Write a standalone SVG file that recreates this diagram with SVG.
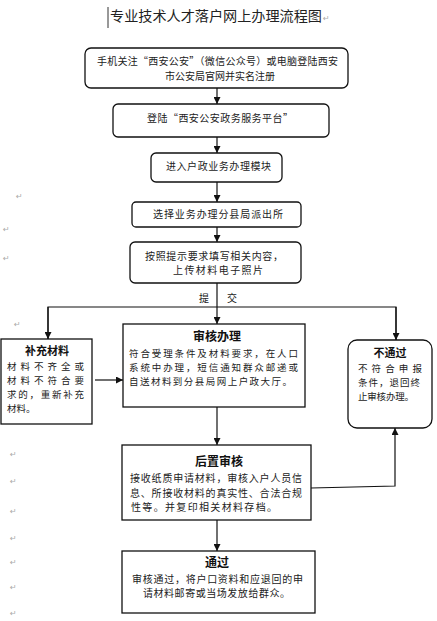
<svg xmlns="http://www.w3.org/2000/svg" width="437" height="621" viewBox="0 0 437 621">
<style>
.box{fill:#fff;stroke:#111;stroke-width:1.3}
.t{font-family:"Noto Sans CJK SC","Liberation Sans",sans-serif;font-size:10px;fill:#222}
.s{font-size:9.5px}
.b{font-family:"Noto Sans CJK SC","Liberation Serif",serif;font-weight:bold;fill:#111;text-anchor:middle}
.c{text-anchor:middle}
.ln{stroke:#111;stroke-width:1.2;fill:none}
.rm{font-family:"DejaVu Sans",sans-serif;font-size:8px;fill:#aaa}
</style>
<defs>
<marker id="ah" viewBox="0 0 10 10" refX="10" refY="5" markerWidth="7" markerHeight="7" markerUnits="userSpaceOnUse" orient="auto">
<path d="M0,0 L10,5 L0,10 z" fill="#111"/>
</marker>
</defs>
<rect width="437" height="621" fill="#fff"/>
<g id="title">
<line x1="108" y1="7" x2="108" y2="28" stroke="#333" stroke-width="1"/>
<text x="110" y="21" font-family="Noto Sans CJK SC,sans-serif" font-size="14" fill="#222" textLength="212" lengthAdjust="spacingAndGlyphs">专业技术人才落户网上办理流程图</text>
<text class="rm" x="323" y="21">↵</text>
</g>
<g id="margin-marks">
<text class="rm" x="16" y="199">↵</text>
<text class="rm" x="3" y="232">↵</text>
<text class="rm" x="3" y="261">↵</text>
<text class="rm" x="14" y="327">↵</text>
<text class="rm" x="10" y="457">↵</text>
<text class="rm" x="10" y="484">↵</text>
<text class="rm" x="10" y="514">↵</text>
<text class="rm" x="10" y="541">↵</text>
<text class="rm" x="10" y="565">↵</text>
<text class="rm" x="10" y="590">↵</text>
<text class="rm" x="10" y="616">↵</text>
</g>
<g id="connectors">
<line class="ln" x1="217" y1="88" x2="217" y2="104" marker-end="url(#ah)"/>
<line class="ln" x1="217" y1="137" x2="217" y2="153" marker-end="url(#ah)"/>
<line class="ln" x1="217" y1="182" x2="217" y2="202" marker-end="url(#ah)"/>
<line class="ln" x1="217" y1="227" x2="217" y2="242" marker-end="url(#ah)"/>
<line class="ln" x1="217" y1="283" x2="217" y2="324" marker-end="url(#ah)"/>
<polyline class="ln" points="48,339 48,307 396,307 396,340"/>
<line class="ln" x1="48" y1="307" x2="48" y2="339" marker-end="url(#ah)"/>
<line class="ln" x1="396" y1="307" x2="396" y2="340" marker-end="url(#ah)"/>
<line class="ln" x1="95" y1="380" x2="123" y2="380" marker-end="url(#ah)"/>
<line class="ln" x1="217" y1="407" x2="217" y2="445" marker-end="url(#ah)"/>
<polyline class="ln" points="311,488 395,486 395,428" marker-end="url(#ah)"/>
<line class="ln" x1="217" y1="520" x2="217" y2="551" marker-end="url(#ah)"/>
<text class="t" x="199" y="302" font-size="11">提</text>
<text class="t" x="227" y="302" font-size="11">交</text>
</g>
<g id="n1">
<rect class="box" x="85" y="48" width="263" height="40" rx="6"/>
<text class="t" x="97" y="65" textLength="241" lengthAdjust="spacing">手机关注“西安公安”（微信公众号）或电脑登陆西安</text>
<text class="t c" x="220" y="80">市公安局官网并实名注册</text>
</g>
<g id="n2">
<rect class="box" x="113" y="104" width="216" height="33" rx="5"/>
<text class="t" x="147" y="122" textLength="146" lengthAdjust="spacing">登陆“西安公安政务服务平台”</text>
</g>
<g id="n3">
<rect class="box" x="151" y="153" width="131" height="29" rx="5"/>
<text class="t" x="166" y="170" textLength="105" lengthAdjust="spacing">进入户政业务办理模块</text>
</g>
<g id="n4">
<rect class="box" x="132" y="202" width="169" height="25" rx="4"/>
<text class="t" x="153" y="218" textLength="130" lengthAdjust="spacing">选择业务办理分县局派出所</text>
</g>
<g id="n5">
<rect class="box" x="130" y="242" width="171" height="41" rx="5"/>
<text class="t" x="145" y="259.5" textLength="138" lengthAdjust="spacing">按照提示要求填写相关内容，</text>
<text class="t" x="173" y="274" textLength="90" lengthAdjust="spacing">上传材料电子照片</text>
</g>
<g id="n-bc">
<rect class="box" x="1" y="339" width="91" height="85"/>
<text class="b" x="47" y="355" font-size="11">补充材料</text>
<text class="t s" x="7" y="370" textLength="77" lengthAdjust="spacing">材料不齐全或</text>
<text class="t s" x="7" y="384" textLength="77" lengthAdjust="spacing">材料不符合要</text>
<text class="t s" x="7" y="398" textLength="77" lengthAdjust="spacing">求的，重新补充</text>
<text class="t s" x="7" y="412">材料。</text>
</g>
<g id="n-sh">
<rect class="box" x="123" y="324" width="182" height="83"/>
<text class="b" x="217" y="341" font-size="12">审核办理</text>
<text class="t s" x="129" y="357" textLength="169" lengthAdjust="spacing">符合受理条件及材料要求，在人口</text>
<text class="t s" x="129" y="371" textLength="169" lengthAdjust="spacing">系统中办理，短信通知群众邮递或</text>
<text class="t s" x="129" y="385" textLength="163" lengthAdjust="spacing">自送材料到分县局网上户政大厅。</text>
</g>
<g id="n-btg">
<rect class="box" x="348" y="340" width="84" height="88" rx="9"/>
<text class="b" x="390" y="357" font-size="11">不通过</text>
<text class="t s" x="358" y="372" textLength="64" lengthAdjust="spacing">不符合申报</text>
<text class="t s" x="358" y="386" textLength="62" lengthAdjust="spacing">条件，退回终</text>
<text class="t s" x="358" y="400" textLength="56" lengthAdjust="spacing">止审核办理。</text>
</g>
<g id="n-hz">
<rect class="box" x="122" y="445" width="189" height="75"/>
<text class="b" x="219" y="466" font-size="12">后置审核</text>
<text class="t" x="130" y="482" textLength="172" lengthAdjust="spacing">接收纸质申请材料，审核入户人员信</text>
<text class="t" x="130" y="496.5" textLength="172" lengthAdjust="spacing">息、所接收材料的真实性、合法合规</text>
<text class="t" x="131" y="511" textLength="146" lengthAdjust="spacing">性等。并复印相关材料存档。</text>
</g>
<g id="n-tg">
<rect class="box" x="122" y="551" width="193" height="62"/>
<text class="b" x="217" y="567" font-size="12">通过</text>
<text class="t" x="132" y="582.5" textLength="171" lengthAdjust="spacing">审核通过，将户口资料和应退回的申</text>
<text class="t" x="143" y="597" textLength="147" lengthAdjust="spacing">请材料邮寄或当场发放给群众。</text>
</g>
</svg>
